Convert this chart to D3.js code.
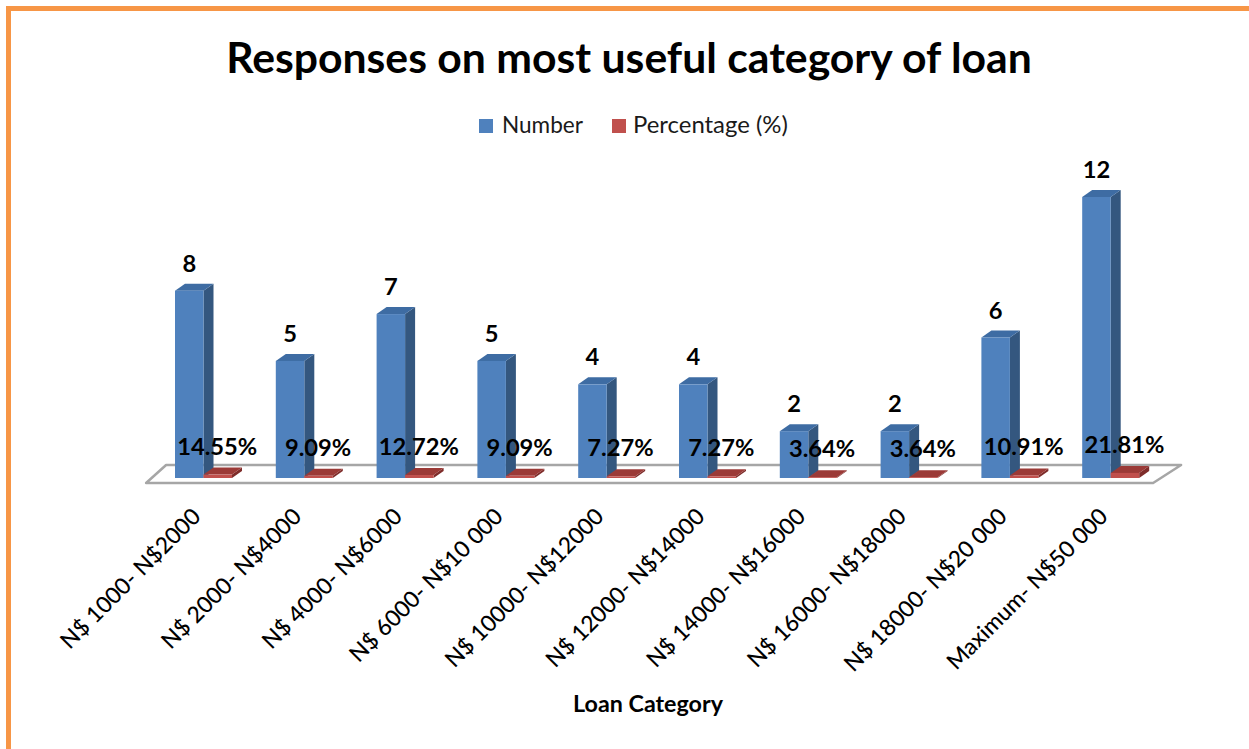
<!DOCTYPE html>
<html>
<head>
<meta charset="utf-8">
<script src="https://cdn.jsdelivr.net/npm/d3@7"></script>
<style>
  html, body { margin: 0; padding: 0; background: #ffffff; }
  svg { display: block; }
  text { font-family: Lato, "Open Sans", sans-serif; }
</style>
</head>
<body>
<svg id="chart" width="1249" height="749"></svg>
<script>
// ---- data ----
const categories = [
  "N$ 1000- N$2000",
  "N$ 2000- N$4000",
  "N$ 4000- N$6000",
  "N$ 6000- N$10 000",
  "N$ 10000- N$12000",
  "N$ 12000- N$14000",
  "N$ 14000- N$16000",
  "N$ 16000- N$18000",
  "N$ 18000- N$20 000",
  "Maximum- N$50 000"
];
const numberValues = [8, 5, 7, 5, 4, 4, 2, 2, 6, 12];
const percentValues = [0.1455, 0.0909, 0.1272, 0.0909, 0.0727, 0.0727, 0.0364, 0.0364, 0.1091, 0.2181];
const percentLabels = ["14.55%", "9.09%", "12.72%", "9.09%", "7.27%", "7.27%", "3.64%", "3.64%", "10.91%", "21.81%"];
const seriesNames = ["Number", "Percentage (%)"];
const titleText = "Responses on most useful category of loan";
const xAxisTitle = "Loan Category";

// ---- layout ----
const W = 1249, H = 749;
const svg = d3.select("#chart");
svg.append("rect").attr("width", W).attr("height", H).attr("fill", "#fff");

const colors = {
  Number: { front: "#4F81BD", top: "#3E6CA3", side: "#34577F" },
  Percentage: { front: "#C0504D", top: "#9B3A37", side: "#7E2C2A" }
};
const depth = { dx: 10, dy: -7 };

const x = d3.scaleBand().domain(categories).range([153.1, 1161.1])
  .paddingInner(0.4345).paddingOuter(0.4345 / 2);
const xSub = d3.scaleBand().domain(["Number", "Percentage"]).range([0, x.bandwidth()]);
const y = d3.scaleLinear().domain([0, 12]).range([478, 197]);

function fitFont(sel, target) {
  sel.style("font-size", "100px");
  const len = sel.node().getComputedTextLength();
  const size = 100 * target / len;
  sel.style("font-size", size + "px");
  return size;
}

// border
svg.append("rect")
  .attr("x", 8.5).attr("y", 8.5).attr("width", 1300).attr("height", 800)
  .attr("fill", "none").attr("stroke", "#F79646").attr("stroke-width", 5);

// title
const title = svg.append("text")
  .attr("x", 629).attr("y", 73).attr("text-anchor", "middle")
  .attr("font-weight", "bold").attr("fill", "#000").text(titleText);
fitFont(title, 806);

// legend
const legend = svg.append("g");
const legendItems = [
  { name: seriesNames[0], color: colors.Number.front, sx: 479, tx: 502, w: 81 },
  { name: seriesNames[1], color: colors.Percentage.front, sx: 612, tx: 633, w: 155 }
];
legendItems.forEach(it => {
  legend.append("rect").attr("x", it.sx).attr("y", 119).attr("width", 14).attr("height", 14).attr("fill", it.color);
  const t = legend.append("text").attr("x", it.tx).attr("y", 133).attr("fill", "#1a1a1a").text(it.name);
  fitFont(t, it.w);
});

// floor
const r0 = x.range()[0], r1 = x.range()[1], base = y(0);
const floorPts = [
  [r0 - 7, base + 5], [r0 + 13, base - 13], [r1 + 20, base - 13], [r1 - 8, base + 5]
];
svg.append("polygon")
  .attr("points", floorPts.map(p => p.join(",")).join(" "))
  .attr("fill", "#fff").attr("stroke", "#A6A6A6").attr("stroke-width", 2.5)
  .attr("stroke-linejoin", "round");

// 3D bar helper
function bar3d(g, x0, w, yTop, yBot, c) {
  const { dx, dy } = depth;
  g.append("polygon").attr("fill", c.side)
    .attr("points", [[x0 + w, yTop], [x0 + w + dx, yTop + dy], [x0 + w + dx, yBot + dy], [x0 + w, yBot]].map(p => p.join(",")).join(" "));
  g.append("polygon").attr("fill", c.top)
    .attr("points", [[x0, yTop], [x0 + dx, yTop + dy], [x0 + w + dx, yTop + dy], [x0 + w, yTop]].map(p => p.join(",")).join(" "));
  g.append("rect").attr("x", x0).attr("y", yTop).attr("width", w).attr("height", Math.max(0, yBot - yTop)).attr("fill", c.front);
}

const barsG = svg.append("g");
categories.forEach((cat, i) => {
  const g = barsG.append("g");
  const bx = x(cat) + xSub("Number");
  bar3d(g, bx, xSub.bandwidth(), y(numberValues[i]), y(0), colors.Number);
  const rx = x(cat) + xSub("Percentage");
  bar3d(g, rx, xSub.bandwidth(), y(percentValues[i]), y(0), colors.Percentage);
});

// percentage labels (size fitted first, reused by number labels)
const pctLabels = svg.append("g");
let pctSize = null;
categories.forEach((cat, i) => {
  const t = pctLabels.append("text")
    .attr("x", x(cat) + xSub("Percentage") + xSub.bandwidth() / 2 - 0.5)
    .attr("y", y(percentValues[i]) - 20)
    .attr("text-anchor", "middle").attr("font-weight", "bold").attr("fill", "#000")
    .text(percentLabels[i]);
  if (i === 0) pctSize = fitFont(t, 80);
});
pctLabels.selectAll("text").style("font-size", pctSize + "px");

// number labels
const numLabels = svg.append("g");
categories.forEach((cat, i) => {
  numLabels.append("text")
    .attr("x", x(cat) + xSub("Number") + xSub.bandwidth() / 2)
    .attr("y", y(numberValues[i]) - 19)
    .attr("text-anchor", "middle").attr("font-weight", "bold").attr("fill", "#000")
    .style("font-size", pctSize + "px")
    .text(numberValues[i]);
});

// x axis
const axisG = svg.append("g").attr("transform", `translate(0, ${base + 40})`)
  .call(d3.axisBottom(x).tickSize(0).tickPadding(0));
axisG.select(".domain").remove();
const tickTexts = axisG.selectAll(".tick text")
  .attr("text-anchor", "end").attr("fill", "#000")
  .attr("dy", 0).attr("y", 0)
  .attr("transform", "translate(-1.5, 0) rotate(-45)");
const catSize = fitFont(d3.select(tickTexts.nodes()[9]), 216);
tickTexts.style("font-size", catSize + "px").style("font-family", "Lato, 'Open Sans', sans-serif")
  .style("font-weight", 500);

// axis title
const at = svg.append("text").attr("x", 648).attr("y", 712).attr("text-anchor", "middle")
  .attr("font-weight", "bold").attr("fill", "#000").text(xAxisTitle);
fitFont(at, 150);
</script>
</body>
</html>
